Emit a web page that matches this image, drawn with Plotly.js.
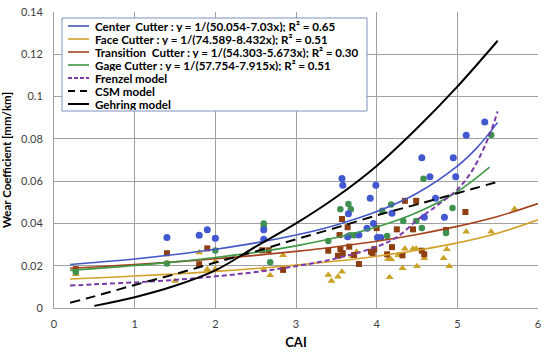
<!DOCTYPE html>
<html>
<head>
<meta charset="utf-8">
<script src="https://cdn.plot.ly/plotly-3.0.1.min.js"></script>
<style>html,body{margin:0;padding:0;background:#fff;}#chart{width:550px;height:355px;}</style>
</head>
<body>
<div id="chart"></div>
<script>
// ---- measured data ----
const centerCAI  = [1.40,1.80,1.90,2.00,2.60,2.60,3.57,3.58,3.65,3.64,3.78,3.99,3.92,3.96,3.88,4.01,4.05,4.56,4.95,4.66,4.98,4.73,4.19,4.59,4.84,5.11,5.34];
const centerWear = [0.0333,0.0344,0.0370,0.0330,0.0370,0.0325,0.0613,0.0580,0.0446,0.0337,0.0345,0.0580,0.0519,0.0400,0.0377,0.0333,0.0333,0.0711,0.0711,0.0621,0.0621,0.0519,0.0448,0.0429,0.0429,0.0817,0.0880];

const gageCAI  = [0.27,1.40,2.00,2.60,2.60,2.68,3.40,3.55,3.65,3.68,3.67,3.72,4.07,4.13,4.18,4.33,4.49,4.56,4.58,4.86,4.94,5.42];
const gageWear = [0.0170,0.0211,0.0272,0.0400,0.0385,0.0216,0.0317,0.0467,0.0492,0.0467,0.0344,0.0344,0.0460,0.0340,0.0490,0.0412,0.0412,0.0378,0.0611,0.0355,0.0473,0.0818];

const transCAI  = [0.27,1.40,1.80,1.90,2.58,2.66,2.84,3.40,3.52,3.54,3.55,3.57,3.58,3.64,3.66,3.72,3.78,3.93,3.95,3.97,4.00,4.13,4.19,4.25,4.32,4.35,4.45,4.49,4.56,4.59,4.86,5.10];
const transWear = [0.0184,0.0259,0.0207,0.0282,0.0273,0.0273,0.0180,0.0271,0.0247,0.0345,0.0278,0.0421,0.0259,0.0382,0.0290,0.0251,0.0208,0.0266,0.0259,0.0278,0.0378,0.0254,0.0288,0.0372,0.0249,0.0507,0.0372,0.0507,0.0271,0.0254,0.0369,0.0454];

const faceCAI  = [0.27,1.50,1.80,1.90,2.00,2.00,2.60,2.68,2.84,3.40,3.44,3.52,3.57,3.70,3.75,4.14,4.16,4.18,4.27,4.32,4.35,4.45,4.49,4.50,4.59,4.83,4.87,4.90,5.11,5.42,5.71];
const faceWear = [0.0160,0.0128,0.0262,0.0183,0.0220,0.0185,0.0183,0.0155,0.0250,0.0156,0.0128,0.0148,0.0172,0.0245,0.0266,0.0232,0.0146,0.0230,0.0250,0.0188,0.0280,0.0280,0.0280,0.0197,0.0235,0.0235,0.0278,0.0197,0.0361,0.0361,0.0468];

// trend lines
const trendCAI      = [0.2,0.5,1,1.5,2,2.5,3,3.5,4,4.5,5,5.25,5.5];
const centerTrend   = [0.0206,0.0215,0.0232,0.0253,0.0278,0.0308,0.0345,0.0393,0.0456,0.0543,0.0671,0.0761,0.0878];
const trendCAI6     = [0.2,0.5,1,1.5,2,2.5,3,3.5,4,4.5,5,5.5,6];
const faceTrend     = [0.0137,0.0142,0.0151,0.0161,0.0173,0.0187,0.0203,0.0222,0.0245,0.0273,0.0308,0.0354,0.0417];
const transTrend    = [0.0188,0.0194,0.0206,0.0218,0.0233,0.0249,0.0268,0.0290,0.0316,0.0348,0.0386,0.0433,0.0494];
const gageTrendCAI  = [0.2,0.5,1,1.5,2,2.5,3,3.5,4,4.5,5,5.4];
const gageTrend     = [0.0178,0.0186,0.0201,0.0218,0.0239,0.0263,0.0294,0.0333,0.0383,0.0452,0.0550,0.0666];

const frenzelCAI  = [0.2,0.5,1,1.5,2,2.5,3,3.5,4,4.25,4.5,4.75,5,5.2,5.4,5.5];
const frenzelWear = [0.0106,0.0112,0.0121,0.0133,0.0150,0.0170,0.0198,0.0235,0.0290,0.0335,0.0415,0.0485,0.0560,0.0660,0.0820,0.0930];
const csmCAI  = [0.2,0.5,1,1.5,2,2.5,3,3.5,4,4.5,5,5.5];
const csmWear = [0.0025,0.0055,0.0109,0.0160,0.0215,0.0268,0.0325,0.0380,0.0438,0.0490,0.0543,0.0597];
const gehringCAI  = [0.5,1,1.5,2,2.5,3,3.5,4,4.5,5,5.5];
const gehringWear = [0.0010,0.0051,0.0105,0.0178,0.0290,0.0400,0.0525,0.0672,0.0850,0.1047,0.1264];

const legendNames = [
  'Center\u00a0 Cutter : y = 1/(50.054-7.03x); R\u00b2 = 0.65',
  'Face Cutter : y = 1/(74.589-8.432x); R\u00b2 = 0.51',
  'Transition\u00a0 Cutter : y = 1/(54.303-5.673x); R\u00b2 = 0.30',
  'Gage Cutter : y = 1/(57.754-7.915x); R\u00b2 = 0.51',
  'Frenzel model', 'CSM model', 'Gehring model'
];
const yTickVals = [0,0.02,0.04,0.06,0.08,0.1,0.12,0.14];
const yTickText = ['0','0.02','0.04','0.06','0.08','0.1','0.12','0.14'];
const xTickVals = [0,1,2,3,4,5,6];

// ---- styles ----
const C_BLUE = '#4357c6', C_FACE = '#d3a12a', C_TRANS = '#a3421c', C_GAGE = '#3f9a45', C_PURP = '#7a3aa8';
const lineStyles = [
  {color:C_BLUE, width:1.6}, {color:C_FACE, width:1.6}, {color:C_TRANS, width:1.6}, {color:C_GAGE, width:1.6},
  {color:C_PURP, width:2, dash:'5px,3px'}, {color:'#000', width:2, dash:'10px,6px'}, {color:'#000', width:2}
];

const seriesX = [trendCAI, trendCAI6, trendCAI6, gageTrendCAI, frenzelCAI, csmCAI, gehringCAI];
const seriesY = [centerTrend, faceTrend, transTrend, gageTrend, frenzelWear, csmWear, gehringWear];

const traces = [
  {x: faceCAI, y: faceWear, mode:'markers', type:'scatter', showlegend:false, hoverinfo:'skip',
   marker:{symbol:'triangle-up', size:7, color:'#c9a227'}},
  {x: transCAI, y: transWear, mode:'markers', type:'scatter', showlegend:false, hoverinfo:'skip',
   marker:{symbol:'square', size:6, color:'#8e3f12'}},
  {x: gageCAI, y: gageWear, mode:'markers', type:'scatter', showlegend:false, hoverinfo:'skip',
   marker:{symbol:'circle', size:6.5, color:'#3f9150'}},
  {x: centerCAI, y: centerWear, mode:'markers', type:'scatter', showlegend:false, hoverinfo:'skip',
   marker:{symbol:'circle', size:7, color:'#4158d0'}}
];
for (let i = 0; i < seriesX.length; i++) {
  traces.push({x: seriesX[i], y: seriesY[i], mode:'lines', type:'scatter', name: legendNames[i], showlegend:false,
               hoverinfo:'skip', line:Object.assign({shape:'spline'}, lineStyles[i])});
}

// ---- legend box drawn in paper space (compact rows like the original) ----
const M = {l:54, r:12, t:12, b:47}, W = 550, H = 355;
const PW = W - M.l - M.r, PH = H - M.t - M.b;
const px = v => (v - M.l) / PW;
const py = v => (H - M.b - v) / PH;
const LEG = {left:62, right:367, top:18, bottom:111, row0:26, rowH:13, symL:68, symR:89, textX:94};

const shapes = [{type:'rect', xref:'paper', yref:'paper', x0:px(LEG.left), x1:px(LEG.right), y0:py(LEG.bottom), y1:py(LEG.top),
                 fillcolor:'#fff', line:{color:'#7f8fbf', width:1}, layer:'above'}];
const annotations = [];
legendNames.forEach((name, i) => {
  const yy = py(LEG.row0 + i * LEG.rowH);
  shapes.push({type:'line', xref:'paper', yref:'paper', x0:px(LEG.symL), x1:px(LEG.symR), y0:yy, y1:yy,
               line:Object.assign({}, lineStyles[i], lineStyles[i].dash ? {dash: i===4 ? '4px,2px' : '7px,5px'} : {}), layer:'above'});
  annotations.push({xref:'paper', yref:'paper', x:px(LEG.textX), y:yy, xanchor:'left', yanchor:'middle',
                    text:'<b>' + name + '</b>', showarrow:false, height:12, borderpad:0, valign:'middle',
                    font:{family:'Lato, "Open Sans", sans-serif', size:11.6, color:'#000'}});
});

const FONT = 'Lato, "Open Sans", "Liberation Sans", sans-serif';
const layout = {
  width:W, height:H,
  margin:M,
  paper_bgcolor:'#fff', plot_bgcolor:'#fff',
  font:{family:FONT, size:11, color:'#404040'},
  showlegend:false,
  xaxis:{range:[0,6], tickvals:xTickVals, showgrid:true, gridcolor:'#a0a0a0', gridwidth:1,
         zeroline:false, showline:true, linecolor:'#a0a0a0', ticks:'', ticklabelstandoff:6,
         tickfont:{size:11, color:'#404040'},
         title:{text:'<b>CAI</b>', font:{size:13, color:'#000'}, standoff:8}},
  yaxis:{range:[0,0.14], tickvals:yTickVals, ticktext:yTickText, showgrid:true, gridcolor:'#a0a0a0', gridwidth:1,
         zeroline:false, showline:true, linecolor:'#a0a0a0', ticks:'', ticklabelstandoff:8,
         tickfont:{size:11, color:'#404040'},
         title:{text:'<b>Wear Coefficient [mm/km]</b>', font:{size:11.5, color:'#000'}, standoff:9}},
  shapes: shapes,
  annotations: annotations
};

Plotly.newPlot('chart', traces, layout, {displayModeBar:false, staticPlot:true});
</script>
</body>
</html>
